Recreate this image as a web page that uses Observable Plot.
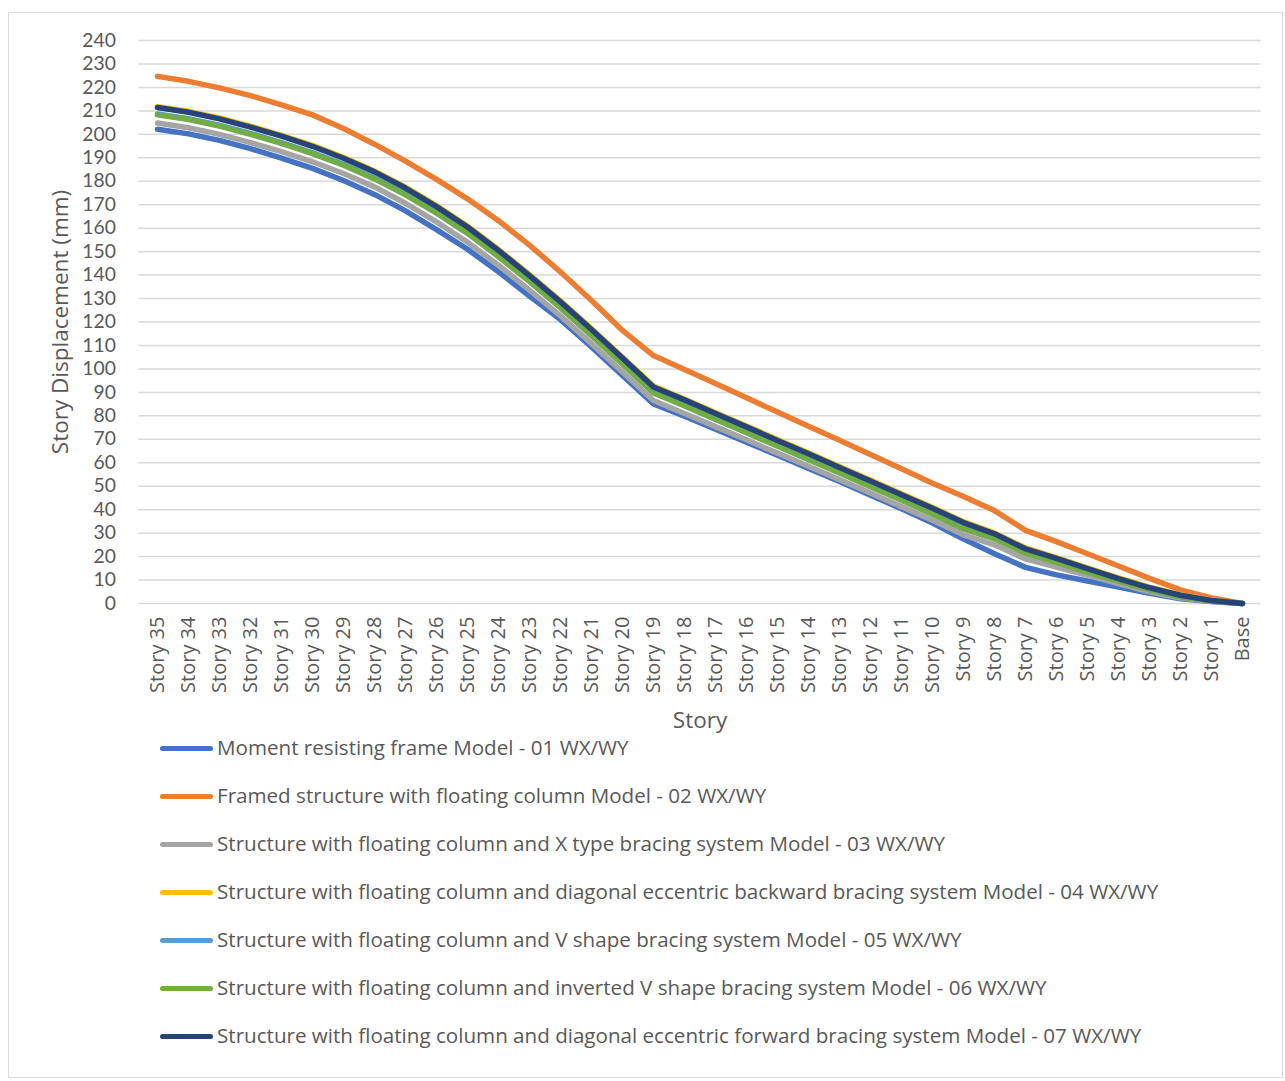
<!DOCTYPE html>
<html>
<head>
<meta charset="utf-8">
<script src="https://cdn.jsdelivr.net/npm/d3@7"></script>
<script src="https://cdn.jsdelivr.net/npm/@observablehq/plot@0.6"></script>
<style>
  html, body { margin: 0; padding: 0; background: #fff; overflow: hidden; }
  body { width: 1285px; height: 1081px; position: relative; font-family: "Open Sans", sans-serif; }
  #frame { position: absolute; left: 8px; top: 12px; width: 1275px; height: 1066px; border: 1px solid #d9d9d9; box-sizing: border-box; }
  #chart { position: absolute; left: 0; top: 0; }
  .row { position: absolute; left: 0; height: 24px; width: 1285px; }
  .sw { position: absolute; left: 160px; top: 10.5px; width: 53px; height: 5px; border-radius: 3px; }
  .lab { position: absolute; left: 217px; top: 0; line-height: 24px; font-size: 20.6px; color: #595959; white-space: nowrap; }
</style>
</head>
<body>
<div id="frame"></div>
<div id="chart"></div>
<div id="legend"></div>
<script>
const stories = ["Story 35","Story 34","Story 33","Story 32","Story 31","Story 30","Story 29","Story 28","Story 27","Story 26","Story 25","Story 24","Story 23","Story 22","Story 21","Story 20","Story 19","Story 18","Story 17","Story 16","Story 15","Story 14","Story 13","Story 12","Story 11","Story 10","Story 9","Story 8","Story 7","Story 6","Story 5","Story 4","Story 3","Story 2","Story 1","Base"];

const seriesNames = [
  "Moment resisting frame Model - 01 WX/WY",
  "Framed structure with floating column Model - 02 WX/WY",
  "Structure with floating column and X type bracing system Model - 03 WX/WY",
  "Structure with floating column and diagonal eccentric backward bracing system Model - 04 WX/WY",
  "Structure with floating column and V shape bracing system Model - 05 WX/WY",
  "Structure with floating column and inverted V shape bracing system Model - 06 WX/WY",
  "Structure with floating column and diagonal eccentric forward bracing system Model - 07 WX/WY"
];
const seriesColors = ["#4472C4","#ED7D31","#A5A5A5","#FFC000","#5B9BD5","#70AD47","#264478"];

const model01 = [202.2,200.2,197.4,193.9,189.9,185.5,180.3,174.4,167.4,159.4,151,141.4,131,121,109.4,97.2,85.1,79.8,74.3,68.8,63.2,57.6,52,46.2,40.4,34.3,27.5,21.2,15.4,12.2,9.6,7,4.3,2,0.8,0];
const model02 = [224.7,222.6,219.8,216.5,212.6,208.3,202.5,195.8,188.6,180.8,172.5,163.2,152.8,141.3,129.2,116.4,105.7,99.7,93.8,87.7,81.6,75.6,69.6,63.5,57.4,51.3,45.6,39.6,31.2,26.4,21.2,16,10.7,5.8,2.4,0];
const model03 = [204.8,202.8,200,196.5,192.6,188.3,183.3,177.6,170.6,162.7,154,144.2,133.6,122.6,110.8,98.7,86.5,81,75.4,69.8,64.1,58.5,52.8,47.1,41.3,35.5,29.3,25,19,15.5,12,8.5,5,2.3,0.9,0];
const model04 = [211.8,209.8,207,203.5,199.6,195.3,190.2,184.4,177.5,169.6,160.9,150.9,140.2,129,117.2,105,92.7,87.2,81.4,75.7,69.9,64.2,58.4,52.6,46.8,41,34.9,30.1,23.7,19.6,15.2,10.9,7,3.7,1.4,0];
const model05 = [208.7,206.7,203.9,200.4,196.5,192.2,187.2,181.4,174.6,166.8,158.2,148.2,137.6,126.4,114.6,102.4,90.1,84.6,78.9,73.2,67.4,61.7,56,50.2,44.4,38.4,32.2,28,21.8,17.8,13.6,9.8,6,3,1.2,0];
const model06 = [208.3,206.3,203.5,200,196.1,191.8,186.8,181,174.2,166.4,157.8,147.8,137.2,126,114.2,102,89.7,84.2,78.5,72.8,67,61.3,55.6,49.8,44,38,31.8,27.6,21.4,17.5,13.3,9.5,5.8,2.8,1.1,0];
const model07 = [211.4,209.4,206.6,203.1,199.2,194.9,189.8,184,177.1,169.2,160.5,150.5,139.8,128.6,116.8,104.6,92.3,86.8,81,75.3,69.5,63.8,58,52.2,46.4,40.6,34.5,29.7,23.3,19.2,14.9,10.6,6.7,3.5,1.3,0];

const yTicks = [0,10,20,30,40,50,60,70,80,90,100,110,120,130,140,150,160,170,180,190,200,210,220,230,240];

const allSeries = [model01, model02, model03, model04, model05, model06, model07];
const table = [];
allSeries.forEach((arr, k) => {
  arr.forEach((v, i) => table.push({series: seriesNames[k], story: stories[i], value: v}));
});

const chart = Plot.plot({
  width: 1285,
  height: 735,
  marginLeft: 138.4,
  marginRight: 24.4,
  marginTop: 40,
  marginBottom: 132,
  style: {background: "transparent", fontFamily: "Open Sans, sans-serif", color: "#595959", overflow: "visible"},
  x: {type: "point", domain: stories, padding: 0.5, label: null},
  y: {domain: [0, 240], label: null},
  color: {domain: seriesNames, range: seriesColors},
  marks: [
    Plot.gridY(yTicks, {stroke: "#d9d9d9", strokeOpacity: 1, strokeWidth: 1.5}),
    Plot.axisY(yTicks, {tickSize: 0, tickPadding: 23, fontSize: 19.3, fontFamily: "Lato, sans-serif", label: null}),
    Plot.axisX({tickSize: 0, tickPadding: 13, tickRotate: -90, fontSize: 20, label: null}),
    Plot.text(["Story Displacement (mm)"], {text: d => d, frameAnchor: "left", textAnchor: "middle", dx: -78, rotate: -90, fontSize: 22.5, fill: "#595959"}),
    Plot.text(["Story"], {text: d => d, frameAnchor: "bottom", textAnchor: "middle", dy: 124, fontSize: 22.5, fill: "#595959"}),
    Plot.line(table, {x: "story", y: "value", z: "series", stroke: "series", strokeWidth: 5.5, strokeLinecap: "round", strokeLinejoin: "round"})
  ]
});
document.getElementById("chart").appendChild(chart);

const legend = document.getElementById("legend");
seriesNames.forEach((name, k) => {
  const row = document.createElement("div");
  row.className = "row";
  row.style.top = (735 + 48 * k) + "px";
  const sw = document.createElement("div");
  sw.className = "sw";
  sw.style.background = seriesColors[k];
  const lab = document.createElement("div");
  lab.className = "lab";
  lab.textContent = name;
  row.appendChild(sw);
  row.appendChild(lab);
  legend.appendChild(row);
});
</script>
</body>
</html>
